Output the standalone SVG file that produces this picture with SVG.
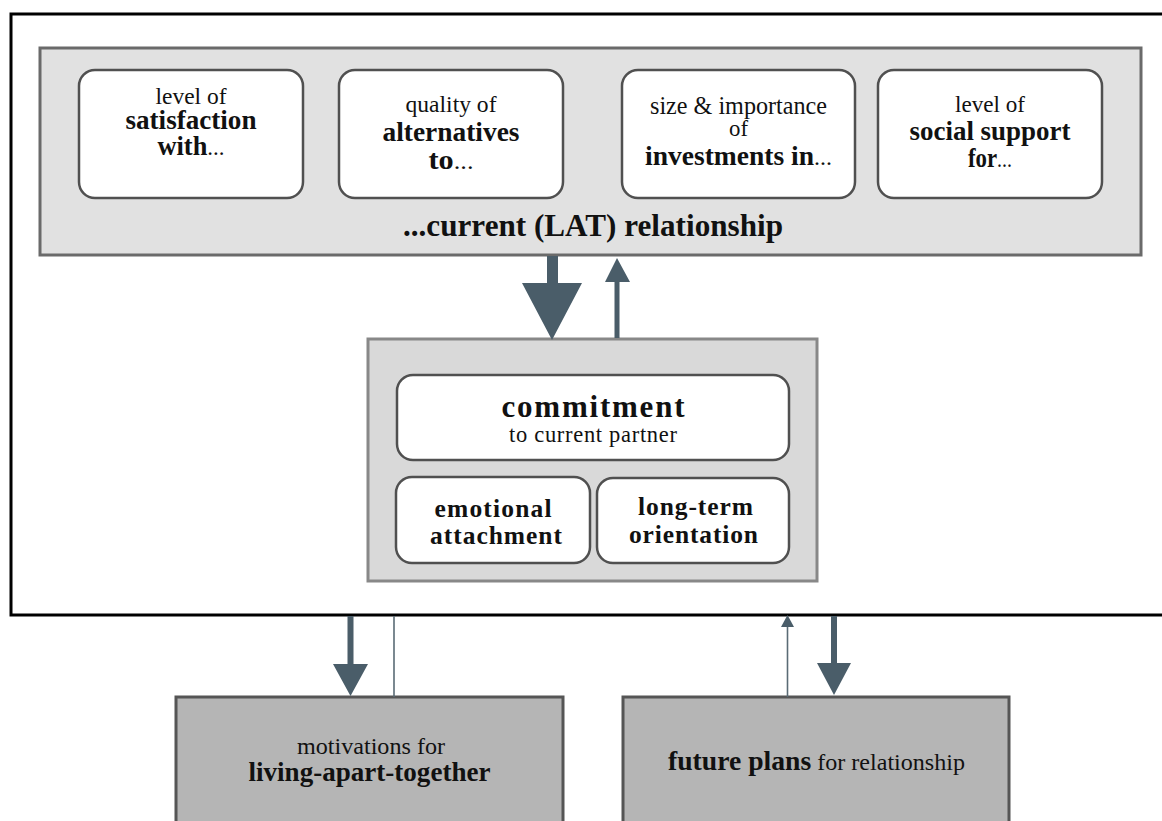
<svg xmlns="http://www.w3.org/2000/svg" width="1162" height="821" viewBox="0 0 1162 821">
<defs>
<style>
.frame{fill:#ffffff;stroke:#000000;stroke-width:3}
.panel{fill:#e1e1e1;stroke:#6a6a6a;stroke-width:3}
.cpanel{fill:#d9d9d9;stroke:#888888;stroke-width:3}
.box{fill:#ffffff;stroke:#505050;stroke-width:2.5}
.bbox{fill:#b5b5b5;stroke:#555555;stroke-width:3}
.arrow{fill:#4a5d69;stroke:none}
.thin{stroke:#5a6b75;stroke-width:1.6;fill:none}
.t text{fill:#111111;text-anchor:middle}
.r{font-size:23.5px;font-weight:normal}
.b{font-size:27px;font-weight:bold}
</style>
</defs>
<rect x="0" y="0" width="1162" height="821" fill="#ffffff"/>
<g id="frame">
<rect class="frame" x="11" y="14" width="1170" height="601"/>
</g>
<g class="t" font-family="'Liberation Serif', 'Times New Roman', serif">
<g id="lat-relationship">
<rect class="panel" x="40" y="48" width="1101" height="207"/>
<text class="b" x="593" y="236" style="font-size:30.5px" textLength="380" lengthAdjust="spacingAndGlyphs">...current (LAT) relationship</text>
</g>
<g id="satisfaction">
<rect class="box" x="79" y="70" width="224" height="128" rx="16"/>
<text class="r" x="191" y="104" textLength="71" lengthAdjust="spacingAndGlyphs">level of</text>
<text class="b" x="191" y="129" textLength="131" lengthAdjust="spacingAndGlyphs">satisfaction</text>
<text class="b" x="191" y="155" textLength="67" lengthAdjust="spacingAndGlyphs">with<tspan class="r">...</tspan></text>
</g>
<g id="alternatives">
<rect class="box" x="339" y="70" width="224" height="128" rx="16"/>
<text class="r" x="451" y="112" textLength="91" lengthAdjust="spacingAndGlyphs">quality of</text>
<text class="b" x="451" y="141" textLength="137" lengthAdjust="spacingAndGlyphs">alternatives</text>
<text class="b" x="451" y="169" textLength="45" lengthAdjust="spacingAndGlyphs">to<tspan class="r">...</tspan></text>
</g>
<g id="investments">
<rect class="box" x="622" y="70" width="233" height="128" rx="16"/>
<text class="r" x="738.5" y="114" style="font-size:24.5px" textLength="177" lengthAdjust="spacingAndGlyphs">size &amp; importance</text>
<text class="r" x="738.5" y="136" textLength="19" lengthAdjust="spacingAndGlyphs">of</text>
<text class="b" x="738.5" y="165" textLength="187" lengthAdjust="spacingAndGlyphs">investments in<tspan class="r">...</tspan></text>
</g>
<g id="social-support">
<rect class="box" x="878" y="70" width="224" height="128" rx="16"/>
<text class="r" x="990" y="112" textLength="70" lengthAdjust="spacingAndGlyphs">level of</text>
<text class="b" x="990" y="140" textLength="161" lengthAdjust="spacingAndGlyphs">social support</text>
<text class="b" x="990" y="167" textLength="44" lengthAdjust="spacingAndGlyphs">for<tspan class="r">...</tspan></text>
</g>
<g id="commitment-panel">
<rect class="cpanel" x="368" y="339" width="449" height="242"/>
</g>
<g id="commitment">
<rect class="box" x="397" y="375" width="392" height="85" rx="16"/>
<text class="b" x="593" y="417" style="font-size:31px" textLength="183" lengthAdjust="spacing">commitment</text>
<text class="r" x="593" y="442" style="font-size:22.5px" textLength="168" lengthAdjust="spacing">to current partner</text>
</g>
<g id="emotional-attachment">
<rect class="box" x="396" y="477" width="194" height="86" rx="16"/>
<text class="b" x="493" y="517" style="font-size:25.5px" textLength="117" lengthAdjust="spacing">emotional</text>
<text class="b" x="496" y="544" style="font-size:25.5px" textLength="132" lengthAdjust="spacing">attachment</text>
</g>
<g id="long-term-orientation">
<rect class="box" x="597" y="478" width="192" height="85" rx="16"/>
<text class="b" x="695.5" y="515" style="font-size:25.5px" textLength="115" lengthAdjust="spacing">long-term</text>
<text class="b" x="693.5" y="543" style="font-size:25.5px" textLength="129" lengthAdjust="spacing">orientation</text>
</g>
<g id="motivations">
<rect class="bbox" x="176" y="697" width="387" height="140"/>
<text class="r" x="371" y="754" textLength="148" lengthAdjust="spacingAndGlyphs">motivations for</text>
<text class="b" x="369.5" y="781" textLength="242" lengthAdjust="spacingAndGlyphs">living-apart-together</text>
</g>
<g id="future-plans">
<rect class="bbox" x="623" y="697" width="386" height="140"/>
<text class="b" x="816.5" y="770" textLength="297" lengthAdjust="spacingAndGlyphs">future plans<tspan class="r"> for relationship</tspan></text>
</g>
</g>
<g id="connectors">
<polygon class="arrow" points="547,256 558,256 558,283 582,283 552,340 522,283 547,283"/>
<polygon class="arrow" points="614.5,338 619.5,338 619.5,282 630,282 617,258 605,282 614.5,282"/>
<polygon class="arrow" points="347.5,616 353.5,616 353.5,664 368,664 350.5,696 333,664 347.5,664"/>
<line class="thin" x1="394" y1="616" x2="394" y2="697"/>
<line class="thin" x1="787.5" y1="697" x2="787.5" y2="625"/>
<polygon class="arrow" points="781,627 794,627 787.5,615"/>
<polygon class="arrow" points="831,616 837,616 837,663 851,663 834,695 817,663 831,663"/>
</g>
</svg>
